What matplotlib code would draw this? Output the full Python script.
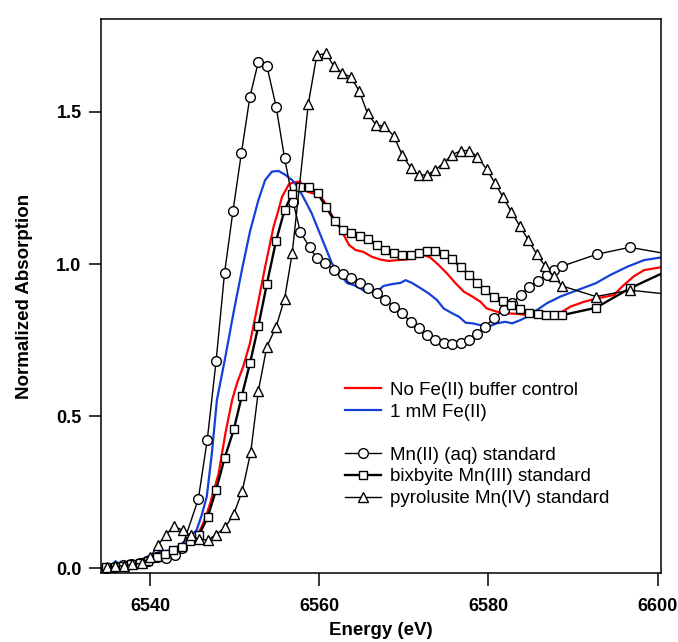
import matplotlib
matplotlib.use('Agg')
import matplotlib.pyplot as plt
from matplotlib.lines import Line2D

plt.rcParams['font.family'] = ['Liberation Sans', 'DejaVu Sans']

# No Fe(II) buffer control (red)
e_ctrl = [6535.5, 6536.2, 6537.2, 6538.0, 6538.8, 6539.6, 6540.4, 6541.2, 6542.0, 6543.2,
          6543.6, 6544.3, 6545.0, 6545.5, 6546.1, 6546.6, 6547.1, 6548.1, 6548.9, 6549.7,
          6550.3, 6551.0, 6551.8, 6552.6, 6553.6, 6554.6, 6555.0, 6555.6, 6556.4, 6557.0,
          6557.75, 6558.3, 6558.6, 6559.3, 6560.3, 6560.9, 6561.5, 6562.3, 6563.0, 6563.5,
          6564.3, 6565.2, 6566.2, 6567.2, 6568.2, 6569.2, 6570.4, 6571.4, 6572.3, 6573.1,
          6574.1, 6575.1, 6576.1, 6577.1, 6578.1, 6579.05, 6579.8, 6581.0, 6582.2, 6583.4,
          6584.6, 6585.75, 6587.0, 6588.3, 6589.7, 6591.3, 6592.85, 6594.8, 6596.0, 6597.2,
          6598.4, 6600.5]
a_ctrl = [0.0, 0.002, 0.004, 0.01, 0.016, 0.025, 0.037, 0.043, 0.048, 0.054,
          0.05, 0.076, 0.082, 0.103, 0.136, 0.17, 0.213, 0.311, 0.443, 0.553,
          0.61, 0.662, 0.739, 0.849, 0.991, 1.123, 1.16, 1.221, 1.262, 1.269,
          1.271, 1.243, 1.238, 1.232, 1.216, 1.194, 1.16, 1.128, 1.09, 1.063,
          1.046, 1.04, 1.024, 1.015, 1.01, 1.013, 1.015, 1.024, 1.03, 1.022,
          0.997, 0.969, 0.937, 0.909, 0.893, 0.876, 0.854, 0.843, 0.838, 0.836,
          0.832, 0.832, 0.835, 0.836, 0.86, 0.876, 0.887, 0.898, 0.931, 0.96,
          0.98, 0.99]

# 1 mM Fe(II) (blue)
e_fe = [6534.9, 6535.5, 6535.9, 6536.5, 6538.0, 6539.6, 6541.2, 6542.6, 6543.55, 6544.5,
        6545.5, 6546.1, 6546.7, 6547.3, 6547.9, 6548.9, 6549.85, 6550.85, 6551.8, 6552.8,
        6553.6, 6554.4, 6555.2, 6556.0, 6556.8, 6557.55, 6558.3, 6559.1, 6559.9, 6560.7,
        6561.5, 6562.5, 6563.3, 6564.05, 6564.85, 6565.4, 6566.0, 6566.8, 6567.6, 6568.6,
        6569.6, 6570.2, 6570.95, 6572.0, 6572.9, 6573.9, 6574.7, 6575.7, 6576.5, 6577.3,
        6578.1, 6579.05, 6580.0, 6581.0, 6582.0, 6582.8, 6583.8, 6584.6, 6585.75, 6586.9,
        6588.5, 6590.5, 6592.7, 6594.4, 6596.4, 6598.4, 6600.5]
a_fe = [0.0, 0.008, 0.023, 0.01, 0.015, 0.037, 0.054, 0.059, 0.076, 0.098,
        0.125, 0.174, 0.235, 0.377, 0.553, 0.695, 0.838, 0.98, 1.106, 1.21,
        1.276, 1.304, 1.306, 1.293, 1.276, 1.249, 1.21, 1.167, 1.112, 1.057,
        1.002, 0.964, 0.937, 0.931, 0.92, 0.909, 0.923, 0.909, 0.928, 0.934,
        0.938, 0.947, 0.938, 0.92, 0.904, 0.882, 0.854, 0.838, 0.827, 0.807,
        0.805, 0.799, 0.794, 0.805, 0.81, 0.805, 0.816, 0.827, 0.849, 0.871,
        0.893, 0.914, 0.937, 0.964, 0.991, 1.013, 1.022]

# Mn(II) (aq) standard (circles)
e_mn2 = [6534.8, 6535.8, 6536.8, 6537.8, 6538.8, 6539.8, 6540.8, 6541.9, 6543.0, 6543.75,
         6545.7, 6546.75, 6547.8, 6548.8, 6549.8, 6550.8, 6551.8, 6552.8, 6553.8, 6554.9,
         6555.9, 6556.9, 6557.75, 6558.85, 6559.7, 6560.7, 6561.7, 6562.8, 6563.75, 6564.8,
         6565.8, 6566.8, 6567.8, 6568.8, 6569.8, 6570.8, 6571.75, 6572.75, 6573.7, 6574.7,
         6575.7, 6576.7, 6577.7, 6578.7, 6579.6, 6580.6, 6581.8, 6582.8, 6583.8, 6584.8,
         6585.8, 6586.9, 6587.8, 6588.7, 6592.8, 6596.7, 6600.8]
a_mn2 = [0.002, 0.005, 0.01, 0.012, 0.018, 0.025, 0.035, 0.033, 0.043, 0.066,
         0.227, 0.42, 0.68, 0.97, 1.175, 1.366, 1.55, 1.665, 1.652, 1.517,
         1.348, 1.205, 1.106, 1.055, 1.02, 1.002, 0.982, 0.966, 0.953, 0.937,
         0.92, 0.904, 0.882, 0.86, 0.838, 0.81, 0.789, 0.766, 0.75, 0.739,
         0.736, 0.741, 0.75, 0.77, 0.794, 0.821, 0.849, 0.871, 0.898, 0.925,
         0.945, 0.964, 0.982, 0.993, 1.032, 1.055, 1.035]

# bixbyite Mn(III) standard (squares)
e_mn3 = [6534.8, 6535.8, 6536.8, 6537.8, 6538.8, 6539.8, 6540.8, 6541.8, 6542.7, 6543.75,
         6544.7, 6545.8, 6546.8, 6547.8, 6548.8, 6549.9, 6550.85, 6551.8, 6552.8, 6553.8,
         6554.9, 6555.9, 6556.8, 6557.75, 6558.8, 6559.8, 6560.8, 6561.8, 6562.75, 6563.75,
         6564.8, 6565.8, 6566.8, 6567.8, 6568.8, 6569.8, 6570.8, 6571.75, 6572.75, 6573.7,
         6574.7, 6575.7, 6576.7, 6577.7, 6578.7, 6579.6, 6580.6, 6581.7, 6582.7, 6583.7,
         6584.8, 6585.8, 6586.75, 6587.7, 6588.7, 6592.7, 6596.7, 6600.8]
a_mn3 = [0.003, 0.005, 0.008, 0.012, 0.018, 0.025, 0.035, 0.045, 0.06, 0.07,
         0.088, 0.11, 0.167, 0.257, 0.361, 0.456, 0.567, 0.673, 0.796, 0.934,
         1.077, 1.178, 1.23, 1.254, 1.254, 1.232, 1.188, 1.141, 1.112, 1.103,
         1.092, 1.081, 1.063, 1.046, 1.035, 1.03, 1.03, 1.037, 1.044, 1.044,
         1.032, 1.015, 0.991, 0.964, 0.938, 0.914, 0.892, 0.878, 0.865, 0.851,
         0.84, 0.835, 0.832, 0.832, 0.832, 0.856, 0.92, 0.973]

# pyrolusite Mn(IV) standard (triangles)
e_mn4 = [6534.9, 6535.9, 6536.9, 6537.9, 6539.0, 6540.0, 6540.9, 6541.9, 6542.8, 6543.9,
         6544.8, 6545.8, 6546.8, 6547.8, 6548.9, 6549.9, 6550.9, 6551.9, 6552.8, 6553.8,
         6554.9, 6555.9, 6556.8, 6558.7, 6559.7, 6560.8, 6561.7, 6562.7, 6563.75, 6564.7,
         6565.7, 6566.7, 6567.7, 6568.8, 6569.8, 6570.8, 6571.75, 6572.75, 6573.7, 6574.7,
         6575.7, 6576.75, 6577.75, 6578.7, 6579.8, 6580.75, 6581.7, 6582.7, 6583.7, 6584.7,
         6585.7, 6586.7, 6587.7, 6588.7, 6592.7, 6596.7, 6600.8]
a_mn4 = [0.005, 0.006, 0.008, 0.012, 0.016, 0.035, 0.075, 0.11, 0.138, 0.124,
         0.108, 0.095, 0.092, 0.11, 0.135, 0.178, 0.254, 0.382, 0.583, 0.728,
         0.794, 0.886, 1.036, 1.526, 1.686, 1.693, 1.651, 1.629, 1.614, 1.57,
         1.496, 1.457, 1.454, 1.421, 1.359, 1.317, 1.293, 1.293, 1.309, 1.333,
         1.359, 1.373, 1.373, 1.353, 1.311, 1.267, 1.221, 1.172, 1.125, 1.079,
         1.033, 0.993, 0.96, 0.928, 0.893, 0.914, 0.902]

x_ticks = [6540, 6560, 6580, 6600]
y_ticks = [0.0, 0.5, 1.0, 1.5]
y_ticklabels = ['0.0', '0.5', '1.0', '1.5']

fig = plt.figure(figsize=(6.78, 6.42), dpi=100)
ax = fig.add_axes([0.149, 0.1075, 0.826, 0.863])

red_line, = ax.plot(e_ctrl, a_ctrl, color='#ff0000', lw=1.6, label='No Fe(II) buffer control')
blue_line, = ax.plot(e_fe, a_fe, color='#1440d8', lw=1.6, label='1 mM Fe(II)')

# last point of each standard lies past the right edge: line only, no marker
mk = dict(color='black', mfc='white', mec='black', mew=1.0, markevery=slice(0, -1))
c_line, = ax.plot(e_mn2, a_mn2, marker='o', ms=7, lw=1.0, label='Mn(II) (aq) standard', **mk)
s_line, = ax.plot(e_mn3, a_mn3, marker='s', ms=5.8, lw=1.7, label='bixbyite Mn(III) standard', **mk)
t_line, = ax.plot(e_mn4, a_mn4, marker='^', ms=7.2, lw=1.0, label='pyrolusite Mn(IV) standard', **mk)

ax.set_xlim(6534.2, 6600.4)
ax.set_ylim(-0.016, 1.806)
ax.set_xticks(x_ticks)
ax.set_yticks(y_ticks)
ax.set_yticklabels(y_ticklabels)
ax.tick_params(direction='out', length=9, width=1.1, labelsize=13)
ax.tick_params(axis='x', pad=9)
ax.tick_params(axis='y', pad=5)
for lab in ax.get_xticklabels() + ax.get_yticklabels():
    lab.set_fontweight('bold')
for sp in ax.spines.values():
    sp.set_linewidth(1.1)

ax.set_xlabel('Energy (eV)', fontsize=13.5, fontweight='bold', labelpad=5)
ax.set_ylabel('Normalized Absorption', fontsize=13.5, fontweight='bold', labelpad=17)

blank = Line2D([], [], color='none')
ax.legend([red_line, blue_line, blank, c_line, s_line, t_line],
          ['No Fe(II) buffer control', '1 mM Fe(II)', ' ', 'Mn(II) (aq) standard',
           'bixbyite Mn(III) standard', 'pyrolusite Mn(IV) standard'],
          loc='center left', bbox_to_anchor=(0.436, 0.232), frameon=False,
          fontsize=13.5, numpoints=1, handlelength=1.9, handletextpad=0.5,
          labelspacing=0.24, borderpad=0, borderaxespad=0)

fig.savefig('out.png', dpi=100)
